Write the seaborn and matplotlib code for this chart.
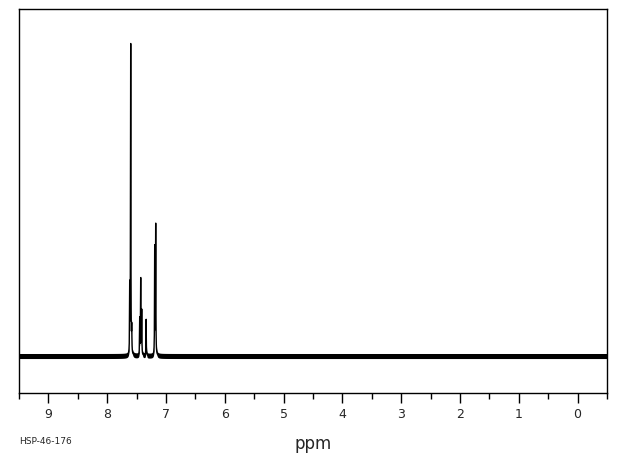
import numpy as np
import pandas as pd
import matplotlib
matplotlib.use('Agg')
import matplotlib.pyplot as plt
import seaborn as sns

# peak list (ppm, relative height, half width in ppm)
peak_ppm = [7.617, 7.600, 7.583, 7.447, 7.430, 7.413, 7.338, 7.192, 7.175]
peak_height = [21.0, 98.0, 7.5, 11.5, 24.0, 14.0, 11.5, 34.0, 41.0]
peak_width = [0.003, 0.003, 0.003, 0.003, 0.003, 0.003, 0.003, 0.003, 0.003]
noise_amp = 0.8  # half thickness of the baseline noise band
x_ticks = [9, 8, 7, 6, 5, 4, 3, 2, 1, 0]
sample_id = 'HSP-46-176'

ppm = np.linspace(9.5, -0.5, 20001)
signal = np.zeros_like(ppm)
for p, h, w in zip(peak_ppm, peak_height, peak_width):
    signal += h * w**2 / ((ppm - p)**2 + w**2)
df = pd.DataFrame({'ppm': ppm, 'intensity': signal})

sns.set_style('white')
plt.rcParams['font.family'] = ['DejaVu Sans']

fig = plt.figure(figsize=(6.2, 4.55), dpi=100)
ax = fig.add_axes([19/620, 1-393/455, 588/620, 384/455])

ax.fill_between(df['ppm'], df['intensity'] - noise_amp, df['intensity'] + noise_amp,
                color='black', linewidth=0)
sns.lineplot(data=df, x='ppm', y='intensity', color='black', linewidth=1.0, ax=ax)

ax.set_xlim(9.5, -0.5)
ax.set_ylim(-11.7, 109.8)
ax.set_xticks(x_ticks)
ax.set_xticks(np.arange(9.5, -0.6, -0.5), minor=True)
ax.set_xticklabels([str(t) for t in x_ticks], fontsize=9)
ax.set_yticks([])
ax.tick_params(axis='x', which='major', direction='out', length=7, width=1,
               color='black', pad=4, bottom=True)
ax.tick_params(axis='x', which='minor', direction='out', length=4, width=1,
               color='black', bottom=True)
for s in ax.spines.values():
    s.set_color('black')
    s.set_linewidth(1)
ax.set_xlabel('ppm', fontsize=12, labelpad=10)
ax.set_ylabel('')
fig.text(19/620, 1-441/455, sample_id, fontsize=6.5, va='center', ha='left')

fig.savefig('out.png', dpi=100, facecolor='white')
